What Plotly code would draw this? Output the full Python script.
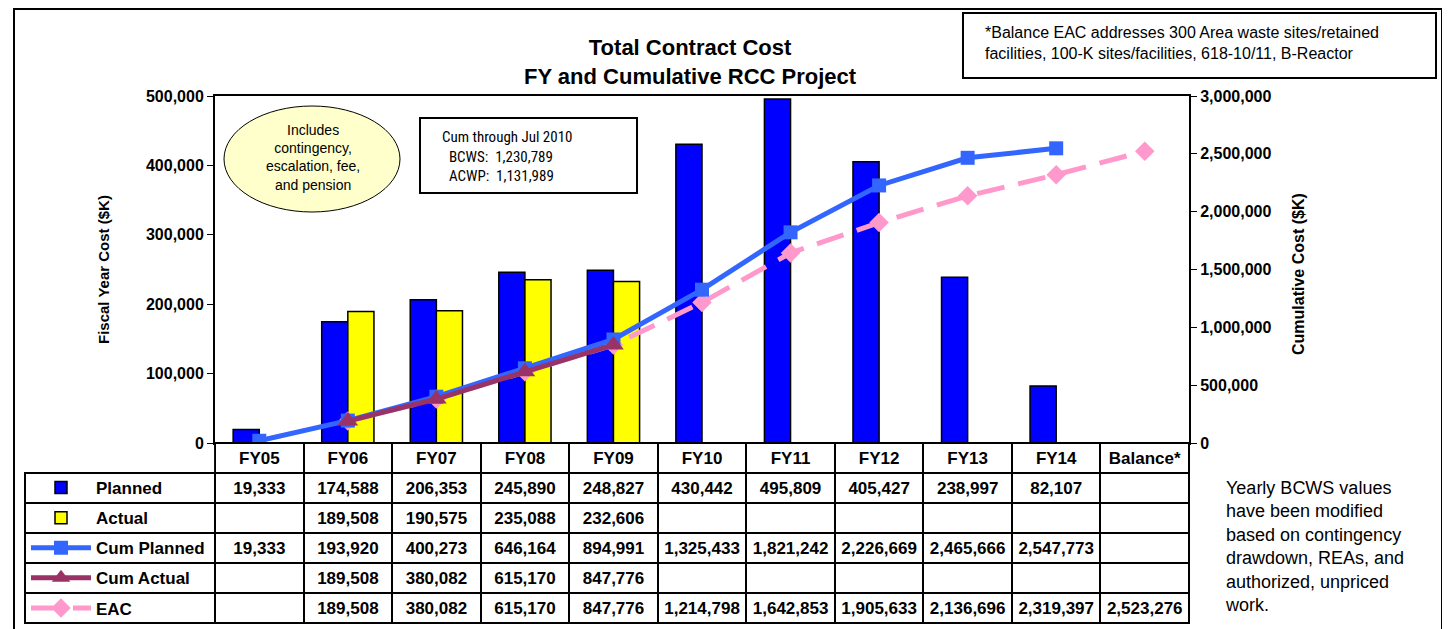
import plotly.graph_objects as go

# data ($K)
categories = ["FY05", "FY06", "FY07", "FY08", "FY09", "FY10", "FY11", "FY12", "FY13", "FY14", "Balance*"]
planned = [19333, 174588, 206353, 245890, 248827, 430442, 495809, 405427, 238997, 82107, None]
actual = [None, 189508, 190575, 235088, 232606, None, None, None, None, None, None]
cum_planned = [19333, 193920, 400273, 646164, 894991, 1325433, 1821242, 2226669, 2465666, 2547773, None]
cum_actual = [None, 189508, 380082, 615170, 847776, None, None, None, None, None, None]
eac = [None, 189508, 380082, 615170, 847776, 1214798, 1642853, 1905633, 2136696, 2319397, 2523276]

row_names = ["Planned", "Actual", "Cum Planned", "Cum Actual", "EAC"]
row_values = [planned, actual, cum_planned, cum_actual, eac]

# the page body has an 8px margin, so the figure is sized to fit the window
OFF = 8
W, H = 1450 - OFF, 629 - OFF
FONT = "Arial, Liberation Sans, sans-serif"
NARROW = "Liberation Sans Narrow, Arial Narrow, Roboto Condensed, sans-serif"

# page pixel -> paper helpers (margins are zero, so paper == figure)
def px(x):
    return (x - OFF) / W

def py(y):
    return 1 - (y - OFF) / H

def fmt(v):
    return "" if v is None else f"{v:,}"

COLORS = {
    'planned': '#0000FF',
    'actual': '#FFFF00',
    'cum_planned': '#3366FF',
    'cum_actual': '#993366',
    'eac': '#FF99CC',
}

fig = go.Figure()

fig.add_trace(go.Bar(
    x=categories, y=planned, name="Planned", legendgroup="a", legendrank=1,
    marker=dict(color=COLORS['planned'], line=dict(color="black", width=1.5)),
))
fig.add_trace(go.Bar(
    x=categories, y=actual, name="Actual", legendgroup="b", legendrank=2,
    marker=dict(color=COLORS['actual'], line=dict(color="black", width=1.5)),
))
fig.add_trace(go.Scatter(
    x=categories, y=eac, name="EAC", yaxis="y2", legendgroup="e", legendrank=5,
    mode="lines+markers", cliponaxis=False,
    line=dict(color=COLORS['eac'], width=5, dash="28px,14px"),
    marker=dict(symbol="diamond", size=15, color=COLORS['eac']),
))
fig.add_trace(go.Scatter(
    x=categories, y=cum_planned, name="Cum Planned", yaxis="y2", legendgroup="c", legendrank=3,
    mode="lines+markers", cliponaxis=False,
    line=dict(color=COLORS['cum_planned'], width=5),
    marker=dict(symbol="square", size=14, color=COLORS['cum_planned']),
))
fig.add_trace(go.Scatter(
    x=categories, y=cum_actual, name="Cum Actual", yaxis="y2", legendgroup="d", legendrank=4,
    mode="lines+markers", cliponaxis=False,
    line=dict(color=COLORS['cum_actual'], width=5),
    marker=dict(symbol="triangle-up", size=18, color=COLORS['cum_actual']),
))

# data table under the plot: header row holds the categories,
# the first (label) column is left blank and the legend sits on top of it
n = len(categories)
header_vals = [""] + categories
cell_vals = [[""] * len(row_names)] + [[fmt(r[i]) for r in row_values] for i in range(n)]
table_font = dict(family=FONT, size=17, color="black", weight="bold")
fig.add_trace(go.Table(
    domain=dict(x=[px(25), px(1189)], y=[py(628), py(443)]),
    columnwidth=[190] + [88.5] * n,
    header=dict(values=header_vals, height=30,
                fill_color=["rgba(0,0,0,0)"] + ["white"] * n,
                line=dict(color="black", width=[0] + [2] * n),
                font=table_font, align="center"),
    cells=dict(values=cell_vals, height=30,
               fill_color="white", line=dict(color="black", width=2),
               font=table_font, align="center"),
))

fig.update_layout(
    width=W, height=H,
    template="none",
    paper_bgcolor="white", plot_bgcolor="white",
    margin=dict(l=0, r=0, t=0, b=0, autoexpand=False),
    font=dict(family=FONT, color="black"),
    barmode="group", bargap=0.41, bargroupgap=0,
    xaxis=dict(domain=[px(215), px(1189)], type="category", range=[-0.5, 10.5],
               showticklabels=False, ticks="", showgrid=False, zeroline=False,
               showline=True, mirror=True, linecolor="black", linewidth=2),
    yaxis=dict(domain=[py(443), py(96)], range=[0, 500000], dtick=100000,
               tickformat=",", ticks="outside", ticklen=6, tickcolor="black",
               tickfont=dict(family=FONT, size=16, weight="bold"),
               showgrid=False, zeroline=False,
               showline=True, linecolor="black", linewidth=2),
    yaxis2=dict(overlaying="y", side="right", range=[0, 3000000], dtick=500000,
                tickformat=",", ticks="outside", ticklen=6, tickcolor="black",
                tickfont=dict(family=FONT, size=16, weight="bold"),
                showgrid=False, zeroline=False,
                showline=True, linecolor="black", linewidth=2),
    showlegend=True,
    legend=dict(x=px(26), y=py(470), xanchor="left", yanchor="top",
                orientation="v", traceorder="grouped", tracegroupgap=5,
                itemwidth=60, bgcolor="rgba(0,0,0,0)",
                font=dict(family=FONT, size=17, weight="bold")),
)

shapes = [
    # outer frame
    dict(type="rect", xref="paper", yref="paper", x0=px(14), x1=px(1442), y0=py(650), y1=py(9),
         line=dict(color="black", width=2), layer="below"),
    # footnote box
    dict(type="rect", xref="paper", yref="paper", x0=px(963), x1=px(1436), y0=py(78), y1=py(13),
         line=dict(color="black", width=2)),
    # ellipse callout
    dict(type="circle", xref="paper", yref="paper", x0=px(224), x1=px(400), y0=py(212), y1=py(106),
         fillcolor="#FFFFCC", line=dict(color="black", width=1)),
    # cumulative box
    dict(type="rect", xref="paper", yref="paper", x0=px(420), x1=px(637), y0=py(193), y1=py(118),
         fillcolor="white", line=dict(color="black", width=2)),
]

annotations = [
    dict(text="<b>Total Contract Cost<br>FY and Cumulative RCC Project</b>", x=px(690), y=py(62),
         font=dict(size=22)),
    dict(text="*Balance EAC addresses 300 Area waste sites/retained<br>facilities, 100-K sites/facilities, 618-10/11, B-Reactor",
         x=px(983), y=py(43), xanchor="left", align="left", font=dict(size=16)),
    dict(text="Includes<br>contingency,<br>escalation, fee,<br>and pension", x=px(313), y=py(158),
         font=dict(size=14)),
    dict(text="Cum through Jul 2010<br>\u00a0\u00a0BCWS:\u00a0\u00a01,230,789<br>\u00a0\u00a0ACWP:\u00a0\u00a01,131,989",
         x=px(440), y=py(157), xanchor="left", align="left", font=dict(family=NARROW, size=15)),
    dict(text="Yearly BCWS values<br>have been modified<br>based on contingency<br>drawdown, REAs, and<br>authorized, unpriced<br>work.",
         x=px(1223), y=py(546), xanchor="left", align="left", font=dict(size=18)),
    dict(text="<b>Fiscal Year Cost ($K)</b>", x=px(103), y=py(270), textangle=-90, font=dict(size=15)),
    dict(text="<b>Cumulative Cost ($K)</b>", x=px(1298), y=py(274), textangle=-90, font=dict(size=16)),
]
for a in annotations:
    a.setdefault("xanchor", "center")
    a.update(xref="paper", yref="paper", yanchor="middle", showarrow=False)

fig.update_layout(shapes=shapes, annotations=annotations)

fig.write_html("out.html")
